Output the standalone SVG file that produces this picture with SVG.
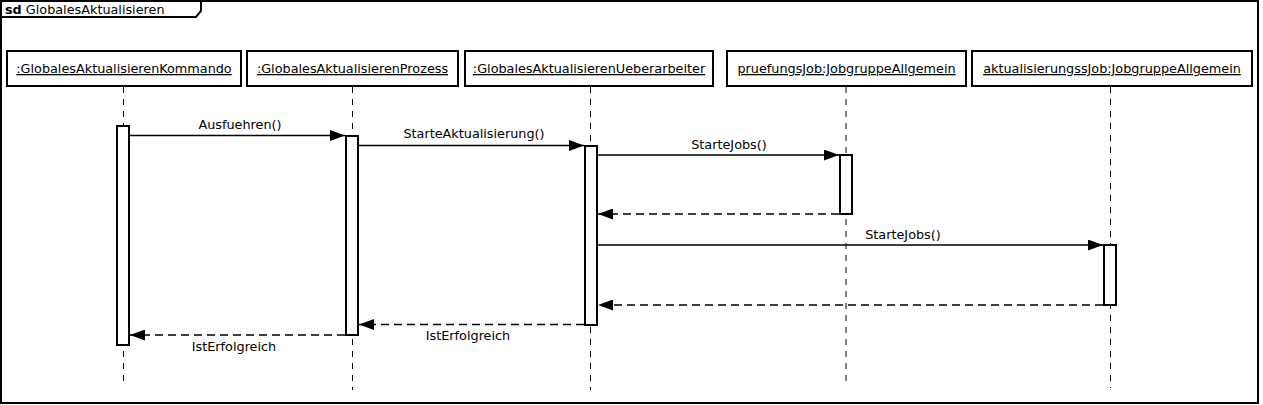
<svg xmlns="http://www.w3.org/2000/svg" width="1263" height="405" viewBox="0 0 1263 405">
<defs>
<style>
text{font-family:"DejaVu Sans","Liberation Sans",sans-serif;font-size:12.8px;fill:#000}
.hd{text-anchor:middle;text-decoration:underline}
.lbl{text-anchor:middle}
.box{fill:#fff;stroke:#000;stroke-width:2}
.act{fill:#fff;stroke:#000;stroke-width:2}
.life{stroke:#000;stroke-width:1;stroke-dasharray:6,6;fill:none}
.msg{stroke:#000;stroke-width:1.6;fill:none}
.ret{stroke:#000;stroke-width:1.6;fill:none;stroke-dasharray:8,5}
</style>
<marker id="ah" viewBox="0 0 15 11" refX="15" refY="5.5" markerWidth="15" markerHeight="11" markerUnits="userSpaceOnUse" orient="auto">
<path d="M0,0 L15,5.5 L0,11 Z" fill="#000"/>
</marker>
</defs>
<rect width="1263" height="405" fill="#fff"/>
<g id="frame">
<rect x="1" y="1" width="1257" height="402" fill="none" stroke="#000" stroke-width="2"/>
<path d="M1,17 L196,17 L201,11 L201,1" fill="none" stroke="#000" stroke-width="2"/>
<text x="5" y="14"><tspan font-weight="bold">sd</tspan> GlobalesAktualisieren</text>
</g>
<g id="lifelines">
<line class="life" x1="123.5" y1="87" x2="123.5" y2="386"/>
<line class="life" x1="352.5" y1="87" x2="352.5" y2="390"/>
<line class="life" x1="590.5" y1="87" x2="590.5" y2="390"/>
<line class="life" x1="846" y1="87" x2="846" y2="384"/>
<line class="life" x1="1110.5" y1="87" x2="1110.5" y2="388"/>
</g>
<g id="n1">
<rect class="box" x="7" y="51" width="234" height="35"/>
<text class="hd" x="124" y="73">:GlobalesAktualisierenKommando</text>
</g>
<g id="n2">
<rect class="box" x="247" y="51" width="211" height="35"/>
<text class="hd" x="352.5" y="73">:GlobalesAktualisierenProzess</text>
</g>
<g id="n3">
<rect class="box" x="465" y="51" width="248" height="35"/>
<text class="hd" x="589" y="73">:GlobalesAktualisierenUeberarbeiter</text>
</g>
<g id="n4">
<rect class="box" x="727" y="51" width="239" height="35"/>
<text class="hd" x="846.5" y="73">pruefungsJob:JobgruppeAllgemein</text>
</g>
<g id="n5">
<rect class="box" x="972" y="51" width="280" height="35"/>
<text class="hd" x="1112" y="73">aktualisierungssJob:JobgruppeAllgemein</text>
</g>
<g id="activations">
<rect class="act" x="117" y="126" width="12" height="219"/>
<rect class="act" x="346" y="136" width="12" height="199"/>
<rect class="act" x="585" y="146" width="12" height="179"/>
<rect class="act" x="840" y="155" width="12" height="59"/>
<rect class="act" x="1104" y="245" width="12" height="60"/>
</g>
<g id="connectors">
<line class="msg" x1="130" y1="135.5" x2="345" y2="135.5" marker-end="url(#ah)"/>
<text class="lbl" x="240" y="129">Ausfuehren()</text>
<line class="msg" x1="359" y1="145.5" x2="584" y2="145.5" marker-end="url(#ah)"/>
<text class="lbl" x="474" y="138">StarteAktualisierung()</text>
<line class="msg" x1="598" y1="155" x2="839" y2="155" marker-end="url(#ah)"/>
<text class="lbl" x="729" y="149">StarteJobs()</text>
<line class="ret" x1="839" y1="214" x2="598" y2="214" marker-end="url(#ah)"/>
<line class="msg" x1="598" y1="245" x2="1103" y2="245" marker-end="url(#ah)"/>
<text class="lbl" x="903" y="239">StarteJobs()</text>
<line class="ret" x1="1103" y1="305" x2="598" y2="305" marker-end="url(#ah)"/>
<line class="ret" x1="584" y1="324.5" x2="359" y2="324.5" marker-end="url(#ah)"/>
<text class="lbl" x="468" y="340">IstErfolgreich</text>
<line class="ret" x1="345" y1="335" x2="130" y2="335" marker-end="url(#ah)"/>
<text class="lbl" x="234" y="351">IstErfolgreich</text>
</g>
</svg>
